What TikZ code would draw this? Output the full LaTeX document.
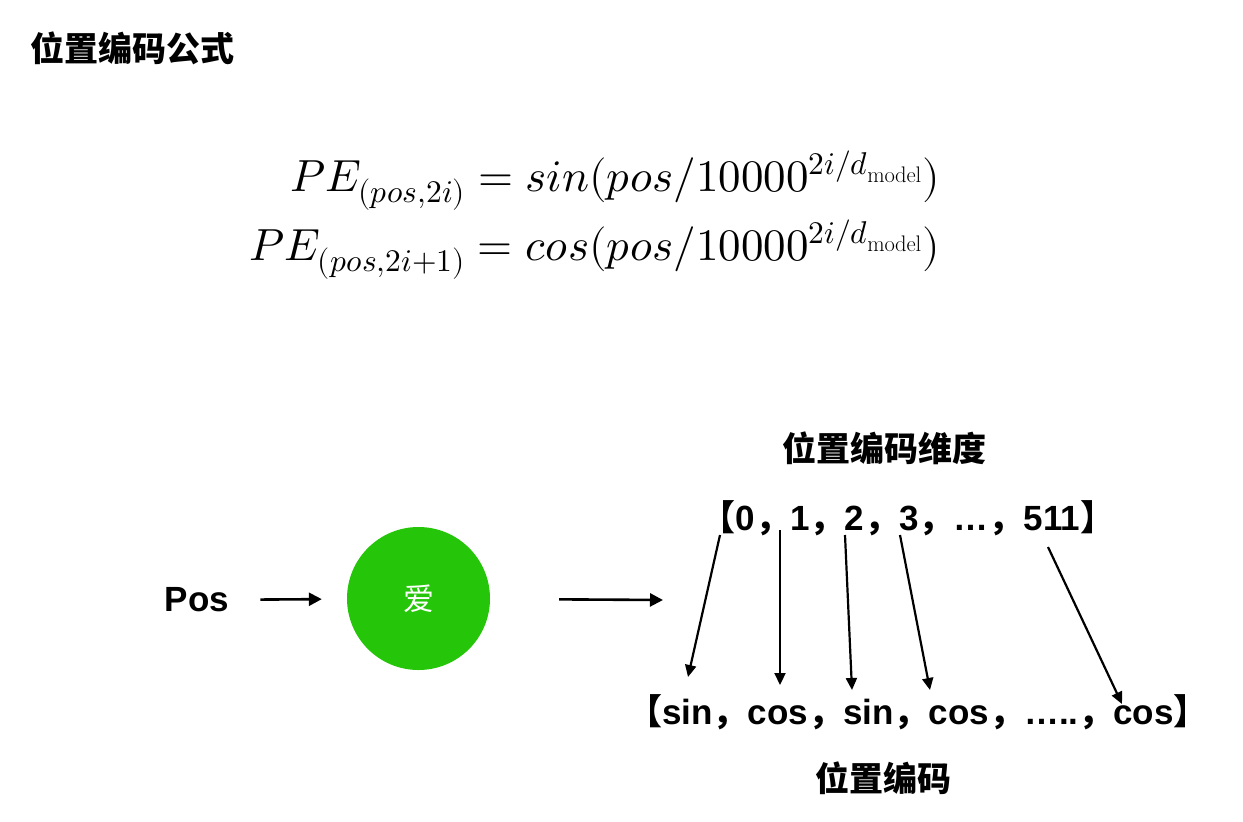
\documentclass[tikz,border=0pt]{standalone}
\usepackage{amsmath}
\usepackage{fontspec}
\usepackage{unicode-math}
\setmainfont{Liberation Sans}
\setmathfont{Latin Modern Math}
\setmathrm{Latin Modern Roman}
\newfontfamily\cjk{Noto Sans CJK SC}
\usetikzlibrary{arrows.meta,positioning,calc}
\definecolor{wordgreen}{RGB}{37,197,9}
\newcommand{\zlb}{{\cjk 【}}
\newcommand{\zrb}{{\cjk 】}}
\newcommand{\zcm}{{\cjk ，}}
\tikzset{
  titletext/.style={inner sep=0pt, font=\fontsize{34}{40}\selectfont\bfseries\cjk},
  formula/.style={inner sep=0pt, font=\fontsize{45}{54}\selectfont},
  listtext/.style={inner sep=0pt, font=\fontsize{35}{42}\selectfont\bfseries},
  postext/.style={inner sep=0pt, font=\fontsize{35}{42}\selectfont\bfseries},
  wordnode/.style={circle, fill=wordgreen, minimum size=143pt, inner sep=0pt, text=white, font=\fontsize{31}{36}\selectfont\cjk},
  flowarrow/.style={-{Triangle[length=13pt,width=13pt]}, line width=2.6pt},
  maparrow/.style={-{Triangle[length=12pt,width=11pt]}, line width=2.2pt}
}
\begin{document}
\begin{tikzpicture}[x=1pt,y=-1pt]
\path[use as bounding box, fill=white] (0,0) rectangle (1243,822);
% title and formula
\node[titletext, anchor=west] (title) at (30,48) {位置编码公式};
\node[formula, anchor=base east] (pe1) at (940,191) {$PE_{(pos,2i)} = sin(pos/10000^{2i/d_{\mathrm{model}}})$};
\node[formula, anchor=base east] (pe2) at (940,260) {$PE_{(pos,2i+1)} = cos(pos/10000^{2i/d_{\mathrm{model}}})$};
% input word
\node[postext] (pos) at (197,600) {Pos};
\node[wordnode] (word) at (418.5,598.5) {爱};
\coordinate (out) at (663,600);
\draw[flowarrow, shorten <=31pt, shorten >=25pt] (pos) -- (word);
\draw[flowarrow, shorten <=69pt] (word) -- (out);
% dimensions and encoding
\node[titletext] (dimtitle) at (884,448) {位置编码维度};
\node[listtext] (dims) at (908,518) {\zlb 0\zcm 1\zcm 2\zcm 3\zcm …\zcm 511\zrb};
\node[listtext] (codes) at (918,712) {\zlb sin\zcm cos\zcm sin\zcm cos\zcm …..\zcm cos\zrb};
\node[titletext] (codetitle) at (883,778) {位置编码};
\coordinate (d0) at (720,535);
\coordinate (d1) at (780,530);
\coordinate (d2) at (845,535);
\coordinate (d3) at (900,535);
\coordinate (d4) at (1048,547);
\coordinate (e0) at (688,677);
\coordinate (e1) at (780,685);
\coordinate (e2) at (852,690);
\coordinate (e3) at (930,690);
\coordinate (e4) at (1122,704);
\foreach \i in {0,...,4}
  \draw[maparrow] (d\i) -- (e\i);
\end{tikzpicture}
\end{document}
